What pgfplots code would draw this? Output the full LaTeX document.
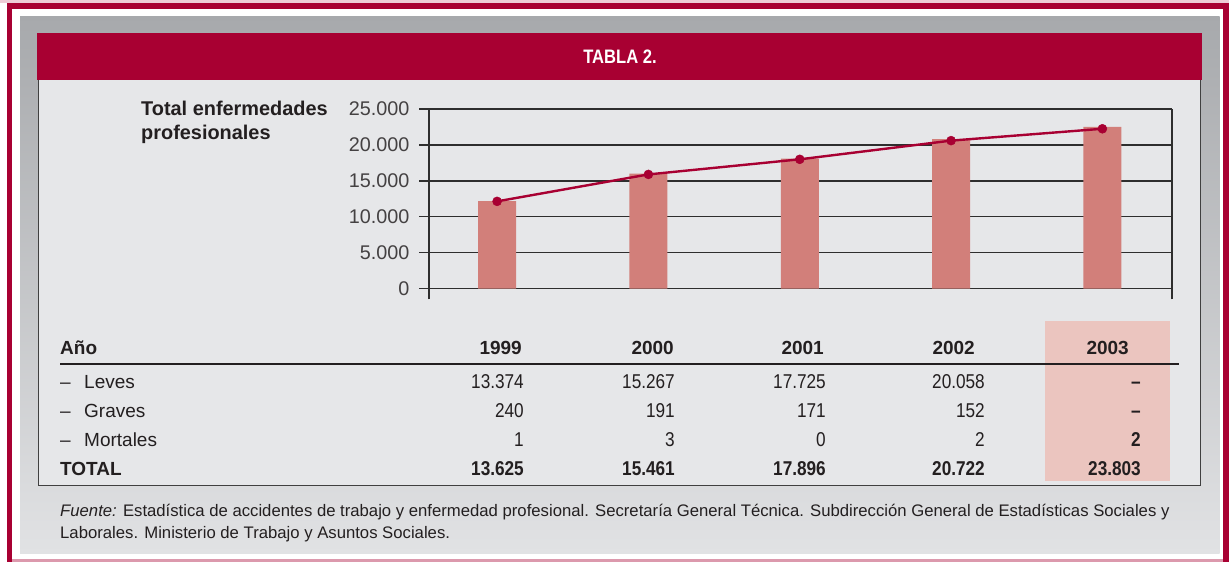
\documentclass[border=0pt]{standalone}
\usepackage{pgfplots}
\pgfplotsset{compat=1.18}
\usepackage{fontspec}
\setmainfont{Liberation Sans}
\newfontfamily\cn[FakeStretch=0.86]{Liberation Sans}
\newfontfamily\cnt[FakeStretch=0.85]{Liberation Sans}
\definecolor{crim}{HTML}{A80032}
\definecolor{barc}{HTML}{D27F7A}
\definecolor{panel}{HTML}{E6E7E9}
\definecolor{txt}{HTML}{231F20}
\definecolor{hl}{HTML}{EBC5BF}
\definecolor{gtop}{HTML}{A7A9AC}
\definecolor{gbot}{HTML}{E1E2E4}
\definecolor{gridc}{HTML}{2E2E2E}
\begin{document}
\begin{tikzpicture}[
  tl/.style={anchor=base west, inner sep=0pt, text=txt, font=\fontsize{19}{21}\selectfont},
  tr/.style={anchor=base east, inner sep=0pt, text=txt, font=\cn\fontsize{20}{21}\selectfont},
  bl/.style={anchor=base west, inner sep=0pt, text=txt, font=\bfseries\fontsize{19}{21}\selectfont},
  bh/.style={anchor=base east, inner sep=0pt, text=txt, font=\bfseries\fontsize{19}{21}\selectfont},
  br/.style={anchor=base east, inner sep=0pt, text=txt, font=\cn\bfseries\fontsize{20}{21}\selectfont}]
\clip (0pt,0pt) rectangle (1229pt,-562pt);
\fill[white] (0pt,0pt) rectangle (1229pt,-562pt);
\fill[crim!20] (0pt,0pt) rectangle (1229pt,-3.3pt);
\fill[crim] (7.3pt,-3.3pt) rectangle (1240pt,-570pt);
\fill[white] (12.3pt,-9pt) rectangle (1223pt,-558.5pt);
\fill[crim!40] (12.3pt,-558.5pt) rectangle (1223pt,-562pt);
\shade[top color=gtop,bottom color=gbot] (20pt,-16pt) rectangle (1219.7pt,-553pt);
\fill[panel] (37.7pt,-80pt) rectangle (1201pt,-486.3pt);
\draw[line width=1.3pt, black!75] (38.3pt,-80pt) -- (38.3pt,-485.7pt) -- (1200.4pt,-485.7pt) -- (1200.4pt,-80pt);
\fill[crim] (36.7pt,-33.3pt) rectangle (1201.7pt,-80pt);
\node[white, inner sep=0pt, font=\cnt\bfseries\fontsize{19.5}{21}\selectfont] at (620pt,-57pt) {TABLA 2.};
% chart label
\node[anchor=base west, inner sep=0pt, text=txt, font=\bfseries\fontsize{19.9}{21}\selectfont] at (141pt,-115pt) {Total enfermedades};
\node[anchor=base west, inner sep=0pt, text=txt, font=\bfseries\fontsize{19.9}{21}\selectfont] at (141pt,-139pt) {profesionales};
\begin{axis}[at={(429pt,-288.7pt)}, anchor=south west, scale only axis,
  width=743pt, height=179.7pt,
  xmin=-0.45, xmax=4.46, ymin=0, ymax=25000,
  ytick={0,5000,10000,15000,20000,25000}, xtick=\empty,
  axis line style={draw=none},
  ymajorgrids, grid style={gridc, line width=1.3pt},
  ytick style={gridc, line width=1.3pt},
  major tick length=10pt, tick align=outside, ytick pos=left,
  yticklabel style={font=\fontsize{19.8}{21}\selectfont, text=txt!85, xshift=-6pt},
  scaled y ticks=false, clip=false,
  /pgf/number format/fixed,
  /pgf/number format/1000 sep={.},
  /pgf/number format/assume math mode=true]
\draw[gridc, line width=1.3pt] (axis cs:-0.45,-1500) -- (axis cs:-0.45,25000);
\draw[gridc, line width=1.3pt] (axis cs:4.46,-1500) -- (axis cs:4.46,25000);
\addplot[ybar, bar width=38pt, bar shift=0pt, fill=barc, draw=none]
  coordinates {(0,12200) (1,16000) (2,18100) (3,20800) (4,22500)};
\addplot[crim, line width=2.4pt, mark=*, mark size=4.5pt, mark options={fill=crim, draw=crim, line width=0.5pt}]
  coordinates {(0,12150) (1,15900) (2,18000) (3,20600) (4,22250)};
\end{axis}
% table
\fill[hl] (1045.4pt,-321pt) rectangle (1170pt,-481pt);
\draw[txt, line width=1.3pt] (60pt,-364pt) -- (1179pt,-364pt);
\node[bl] at (60pt,-354pt) {Año};
\node[bh] at (522pt,-354pt) {1999};
\node[bh] at (674pt,-354pt) {2000};
\node[bh] at (824pt,-354pt) {2001};
\node[bh] at (975pt,-354pt) {2002};
\node[bh] at (1129pt,-354pt) {2003};
% Leves
\node[tl] at (60pt,-388pt) {–};
\node[tl] at (84pt,-388pt) {Leves};
\node[tr] at (524pt,-388pt) {13.374};
\node[tr] at (675pt,-388pt) {15.267};
\node[tr] at (826pt,-388pt) {17.725};
\node[tr] at (985pt,-388pt) {20.058};
\node[br] at (1141pt,-388pt) {–};
% Graves
\node[tl] at (60pt,-417pt) {–};
\node[tl] at (84pt,-417pt) {Graves};
\node[tr] at (524pt,-417pt) {240};
\node[tr] at (675pt,-417pt) {191};
\node[tr] at (826pt,-417pt) {171};
\node[tr] at (985pt,-417pt) {152};
\node[br] at (1141pt,-417pt) {–};
% Mortales
\node[tl] at (60pt,-446pt) {–};
\node[tl] at (84pt,-446pt) {Mortales};
\node[tr] at (524pt,-446pt) {1};
\node[tr] at (675pt,-446pt) {3};
\node[tr] at (826pt,-446pt) {0};
\node[tr] at (985pt,-446pt) {2};
\node[br] at (1141pt,-446pt) {2};
% TOTAL
\node[bl] at (60pt,-475pt) {TOTAL};
\node[br] at (524pt,-475pt) {13.625};
\node[br] at (675pt,-475pt) {15.461};
\node[br] at (826pt,-475pt) {17.896};
\node[br] at (985pt,-475pt) {20.722};
\node[br] at (1141pt,-475pt) {23.803};
% footer
\node[anchor=base west, inner sep=0pt, text=txt, font=\fontsize{16.7}{20}\selectfont] at (60pt,-516pt) {\textit{Fuente:} Estadística de accidentes de trabajo y enfermedad profesional. Secretaría General Técnica. Subdirección General de Estadísticas Sociales y};
\node[anchor=base west, inner sep=0pt, text=txt, font=\fontsize{16.7}{20}\selectfont] at (60pt,-538pt) {Laborales. Ministerio de Trabajo y Asuntos Sociales.};
\end{tikzpicture}
\end{document}
